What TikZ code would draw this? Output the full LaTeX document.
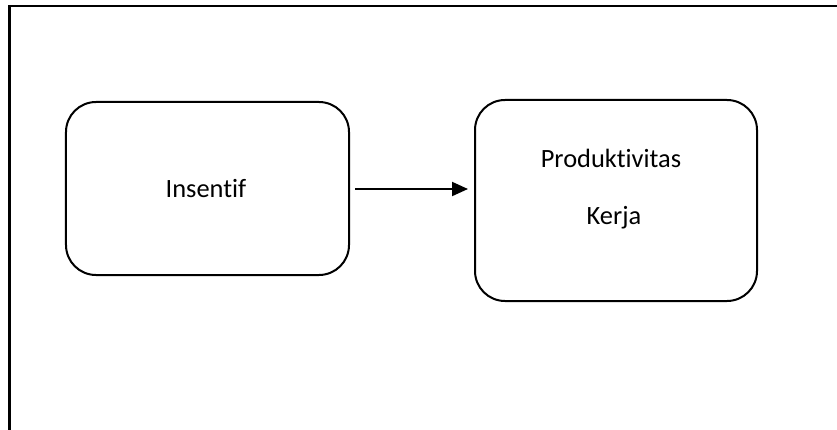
\documentclass[tikz,border=0pt]{standalone}
\usepackage{fontspec}
\setmainfont{Carlito}[Ligatures={NoCommon,NoContextual}]
\usetikzlibrary{arrows.meta}
\begin{document}
\begin{tikzpicture}[x=1bp,y=1bp,
  roundbox/.style={draw,line width=2bp,rounded corners=30bp,inner sep=0pt},
  lbl/.style={font=\fontsize{26.5}{30}\selectfont}]
\useasboundingbox (0,0) rectangle (837,429);
\clip (0,0) rectangle (837,429);
\coordinate (fa) at (9.5,-5);
\coordinate (fb) at (9.5,423);
\coordinate (fc) at (845,423);
\draw[line width=2.6bp] (fa) -- (fb) -- (fc);
\node[roundbox,minimum width=283bp,minimum height=173bp] (a) at (207.5,240.5) {};
\node[roundbox,minimum width=282bp,minimum height=201bp] (b) at (616,228.5) {};
\node[lbl] (ta) at (206,240) {Insentif};
\node[lbl] (tb1) at (611,271) {Produktivitas};
\node[lbl] (tb2) at (614,211) {Kerja};
\coordinate (s) at (355,240);
\coordinate (e) at (468,240);
\draw[line width=2bp,-{Triangle[length=16bp,width=14bp]}] (s) -- (e);
\end{tikzpicture}
\end{document}
